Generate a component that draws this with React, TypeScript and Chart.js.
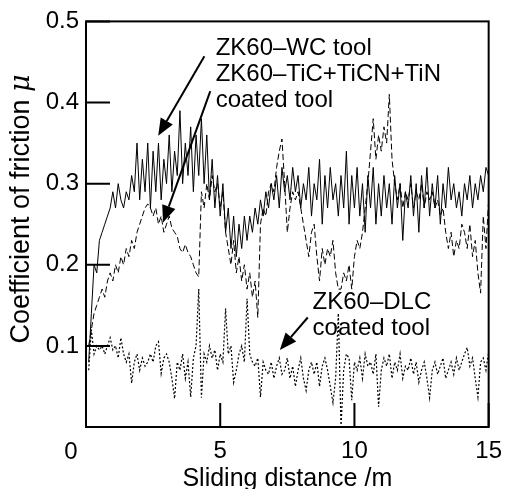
import React, { useEffect, useRef } from "react";
import { Chart, registerables } from "chart.js";

Chart.register(...registerables);

// Sliding distance (m)
const distance = [
  0.1, 0.2, 0.3, 0.4, 0.5, 0.6, 0.7, 0.8, 0.9, 1.0,
  1.1, 1.2, 1.3, 1.4, 1.5, 1.6, 1.7, 1.8, 1.9, 2.0,
  2.1, 2.2, 2.3, 2.4, 2.5, 2.6, 2.7, 2.8, 2.9, 3.0,
  3.1, 3.2, 3.3, 3.4, 3.5, 3.6, 3.7, 3.8, 3.9, 4.0,
  4.1, 4.2, 4.3, 4.4, 4.5, 4.6, 4.7, 4.8, 4.9, 5.0,
  5.1, 5.2, 5.3, 5.4, 5.5, 5.6, 5.7, 5.8, 5.9, 6.0,
  6.1, 6.2, 6.3, 6.4, 6.5, 6.6, 6.7, 6.8, 6.9, 7.0,
  7.1, 7.2, 7.3, 7.4, 7.5, 7.6, 7.7, 7.8, 7.9, 8.0,
  8.1, 8.2, 8.3, 8.4, 8.5, 8.6, 8.7, 8.8, 8.9, 9.0,
  9.1, 9.2, 9.3, 9.4, 9.5, 9.6, 9.7, 9.8, 9.9, 10.0,
  10.1, 10.2, 10.3, 10.4, 10.5, 10.6, 10.7, 10.8, 10.9, 11.0,
  11.1, 11.2, 11.3, 11.4, 11.5, 11.6, 11.7, 11.8, 11.9, 12.0,
  12.1, 12.2, 12.3, 12.4, 12.5, 12.6, 12.7, 12.8, 12.9, 13.0,
  13.1, 13.2, 13.3, 13.4, 13.5, 13.6, 13.7, 13.8, 13.9, 14.0,
  14.1, 14.2, 14.3, 14.4, 14.5, 14.6, 14.7, 14.8, 14.9, 15.0,
];

// ZK60–WC tool (solid)
const wcTool = [
  0.08, 0.14, 0.20, 0.19, 0.23, 0.24, 0.25, 0.26, 0.27, 0.29,
  0.27, 0.30, 0.28, 0.27, 0.29, 0.28, 0.31, 0.29, 0.35, 0.28,
  0.33, 0.29, 0.35, 0.27, 0.34, 0.29, 0.35, 0.28, 0.33, 0.30,
  0.36, 0.29, 0.34, 0.31, 0.39, 0.30, 0.35, 0.31, 0.37, 0.29,
  0.36, 0.31, 0.38, 0.30, 0.36, 0.28, 0.33, 0.27, 0.31, 0.26,
  0.30, 0.24, 0.27, 0.22, 0.26, 0.21, 0.25, 0.22, 0.26, 0.23,
  0.26, 0.24, 0.27, 0.25, 0.28, 0.26, 0.29, 0.27, 0.30, 0.28,
  0.31, 0.27, 0.32, 0.29, 0.31, 0.28, 0.32, 0.29, 0.31, 0.27,
  0.30, 0.28, 0.32, 0.26, 0.30, 0.28, 0.33, 0.25, 0.31, 0.27,
  0.32, 0.28, 0.30, 0.26, 0.31, 0.27, 0.34, 0.25, 0.31, 0.27,
  0.32, 0.26, 0.30, 0.24, 0.31, 0.27, 0.32, 0.25, 0.30, 0.26,
  0.31, 0.27, 0.30, 0.25, 0.31, 0.27, 0.30, 0.23, 0.29, 0.27,
  0.31, 0.26, 0.30, 0.24, 0.31, 0.27, 0.32, 0.26, 0.30, 0.27,
  0.31, 0.25, 0.30, 0.27, 0.32, 0.28, 0.30, 0.27, 0.29, 0.26,
  0.30, 0.28, 0.31, 0.27, 0.30, 0.28, 0.31, 0.29, 0.32, 0.31,
];

// ZK60–TiC+TiCN+TiN coated tool (dashed)
const ticTool = [
  0.10, 0.12, 0.14, 0.15, 0.16, 0.17, 0.16, 0.18, 0.19, 0.18,
  0.20, 0.19, 0.21, 0.20, 0.22, 0.21, 0.23, 0.22, 0.24, 0.25,
  0.26, 0.27, 0.275, 0.27, 0.26, 0.27, 0.25, 0.26, 0.24, 0.25,
  0.26, 0.245, 0.24, 0.235, 0.22, 0.215, 0.225, 0.215, 0.21, 0.20,
  0.19, 0.185, 0.29, 0.27, 0.30, 0.28, 0.31, 0.29, 0.30, 0.27,
  0.29, 0.24, 0.22, 0.20, 0.23, 0.19, 0.21, 0.18, 0.20, 0.17,
  0.19, 0.16, 0.18, 0.135, 0.25, 0.27, 0.26, 0.29, 0.30, 0.29,
  0.32, 0.34, 0.355, 0.30, 0.24, 0.27, 0.29, 0.28, 0.29, 0.27,
  0.25, 0.23, 0.21, 0.24, 0.25, 0.21, 0.18, 0.22, 0.20, 0.22,
  0.21, 0.23, 0.19, 0.17, 0.17, 0.19, 0.18, 0.20, 0.17, 0.21,
  0.23, 0.22, 0.24, 0.27, 0.30, 0.34, 0.38, 0.33, 0.36, 0.34,
  0.37, 0.35, 0.41, 0.33, 0.30, 0.28, 0.30, 0.27, 0.29, 0.28,
  0.30, 0.27, 0.29, 0.28, 0.30, 0.27, 0.29, 0.28, 0.29, 0.27,
  0.28, 0.26, 0.27, 0.24, 0.22, 0.24, 0.21, 0.23, 0.22, 0.25,
  0.24, 0.22, 0.25, 0.21, 0.23, 0.19, 0.165, 0.26, 0.22, 0.28,
];

// ZK60–DLC coated tool (dotted)
const dlcTool = [
  0.07, 0.12, 0.09, 0.10, 0.095, 0.10, 0.09, 0.10, 0.11, 0.095,
  0.10, 0.085, 0.11, 0.09, 0.08, 0.09, 0.054, 0.08, 0.09, 0.07,
  0.085, 0.075, 0.08, 0.09, 0.08, 0.10, 0.105, 0.066, 0.085, 0.09,
  0.08, 0.06, 0.035, 0.08, 0.07, 0.09, 0.06, 0.08, 0.037, 0.085,
  0.10, 0.17, 0.036, 0.09, 0.08, 0.10, 0.085, 0.095, 0.07, 0.09,
  0.08, 0.146, 0.09, 0.10, 0.055, 0.07, 0.09, 0.10, 0.08, 0.158,
  0.09, 0.08, 0.075, 0.085, 0.037, 0.08, 0.07, 0.065, 0.08, 0.06,
  0.075, 0.085, 0.065, 0.07, 0.085, 0.06, 0.075, 0.05, 0.07, 0.085,
  0.06, 0.045, 0.07, 0.08, 0.065, 0.08, 0.05, 0.075, 0.085, 0.07,
  0.05, 0.03, 0.06, 0.14, 0.0, 0.07, 0.09, 0.085, 0.033, 0.08,
  0.07, 0.085, 0.06, 0.09, 0.075, 0.08, 0.065, 0.09, 0.025, 0.07,
  0.085, 0.075, 0.09, 0.06, 0.08, 0.07, 0.09, 0.06, 0.075, 0.07,
  0.085, 0.065, 0.08, 0.055, 0.07, 0.08, 0.06, 0.036, 0.07, 0.08,
  0.065, 0.075, 0.085, 0.06, 0.07, 0.08, 0.065, 0.085, 0.07, 0.08,
  0.09, 0.098, 0.075, 0.085, 0.06, 0.037, 0.08, 0.085, 0.07, 0.092,
];

const xTickValues = [0, 5, 10, 15];
const yTickValues = [0, 0.1, 0.2, 0.3, 0.4, 0.5];

const FONT = "'Liberation Sans', Arial, Helvetica, sans-serif";

const toPoints = (ys: number[]) => ys.map((v, i) => ({ x: distance[i], y: v }));

const annotationPlugin = {
  id: "annotations",
  beforeDraw(chart: any) {
    const { ctx, width, height } = chart;
    ctx.save();
    ctx.fillStyle = "#fff";
    ctx.fillRect(0, 0, width, height);
    ctx.restore();
  },
  afterDraw(chart: any) {
    const { ctx, chartArea } = chart;
    const { left, right, top, bottom } = chartArea;
    const xs = chart.scales.x;
    const ys = chart.scales.y;
    const px = (v: number) => xs.getPixelForValue(v);
    const py = (v: number) => ys.getPixelForValue(v);
    ctx.save();
    ctx.strokeStyle = "#000";
    ctx.fillStyle = "#000";
    ctx.lineWidth = 2;
    ctx.strokeRect(left, top, right - left, bottom - top);
    // inward ticks
    ctx.beginPath();
    for (const v of yTickValues) {
      const y = py(v);
      ctx.moveTo(left, y);
      ctx.lineTo(left + 24, y);
    }
    for (const v of xTickValues) {
      const x = px(v);
      ctx.moveTo(x, bottom);
      ctx.lineTo(x, bottom - 24);
    }
    ctx.stroke();

    // shared origin label
    ctx.font = `24px ${FONT}`;
    ctx.textAlign = "center";
    ctx.textBaseline = "middle";
    ctx.fillText("0", left - 15, bottom + 25);

    // y title
    ctx.save();
    ctx.translate(22, 209);
    ctx.rotate(-Math.PI / 2);
    const main = "Coefficient of friction ";
    ctx.font = `27px ${FONT}`;
    const w1 = ctx.measureText(main).width;
    ctx.font = `italic 27px 'DejaVu Serif', serif`;
    const w2 = ctx.measureText("μ").width;
    const start = -(w1 + w2) / 2;
    ctx.textAlign = "left";
    ctx.font = `27px ${FONT}`;
    ctx.fillText(main, start, 0);
    ctx.font = `italic 27px 'DejaVu Serif', serif`;
    ctx.fillText("μ", start + w1, 0);
    ctx.restore();

    // annotation texts
    ctx.font = `24px ${FONT}`;
    ctx.textAlign = "left";
    ctx.textBaseline = "middle";
    ctx.fillText("ZK60–WC tool", px(4.83), py(0.467));
    ctx.fillText("ZK60–TiC+TiCN+TiN", px(4.83), py(0.435));
    ctx.fillText("coated tool", px(4.83), py(0.403));
    ctx.fillText("ZK60–DLC", px(8.44), py(0.154));
    ctx.fillText("coated tool", px(8.44), py(0.122));

    const arrow = (x1: number, y1: number, x2: number, y2: number) => {
      const ax = px(x1), ay = py(y1), bx = px(x2), by = py(y2);
      const ang = Math.atan2(by - ay, bx - ax);
      const hl = 17, hw = 7;
      const cx = bx - hl * Math.cos(ang), cy = by - hl * Math.sin(ang);
      ctx.lineWidth = 2;
      ctx.beginPath();
      ctx.moveTo(ax, ay);
      ctx.lineTo(cx, cy);
      ctx.stroke();
      ctx.beginPath();
      ctx.moveTo(bx, by);
      ctx.lineTo(cx + hw * Math.sin(ang), cy - hw * Math.cos(ang));
      ctx.lineTo(cx - hw * Math.sin(ang), cy + hw * Math.cos(ang));
      ctx.closePath();
      ctx.fill();
    };
    arrow(4.41, 0.457, 2.69, 0.359);
    arrow(4.63, 0.414, 2.87, 0.252);
    arrow(8.26, 0.135, 7.22, 0.095);
    ctx.restore();
  },
};

export default function App() {
  const ref = useRef<HTMLCanvasElement | null>(null);
  useEffect(() => {
    if (!ref.current) return;
    const chart = new Chart(ref.current, {
      type: "line",
      data: {
        datasets: [
          {
            label: "ZK60–WC tool",
            data: toPoints(wcTool),
            borderColor: "#000",
            borderWidth: 1,
            pointRadius: 0,
            tension: 0,
          },
          {
            label: "ZK60–TiC+TiCN+TiN coated tool",
            data: toPoints(ticTool),
            borderColor: "#000",
            borderWidth: 1,
            borderDash: [6, 3],
            pointRadius: 0,
            tension: 0,
          },
          {
            label: "ZK60–DLC coated tool",
            data: toPoints(dlcTool),
            borderColor: "#000",
            borderWidth: 1.2,
            borderDash: [2, 2],
            pointRadius: 0,
            tension: 0,
          },
        ],
      },
      options: {
        responsive: false,
        animation: false,
        layout: { padding: { top: 20, right: 19, left: 0, bottom: 0 } },
        plugins: { legend: { display: false }, tooltip: { enabled: false } },
        scales: {
          x: {
            type: "linear",
            min: 0,
            max: 15,
            grid: { display: false, drawTicks: false },
            border: { display: false },
            ticks: {
              stepSize: 5,
              padding: 10,
              color: "#000",
              font: { family: FONT, size: 24 },
              maxRotation: 0,
              callback: (v: any) => (v === 0 ? "" : String(v)),
            },
            title: {
              display: true,
              text: "Sliding distance /m",
              color: "#000",
              font: { family: FONT, size: 25, lineHeight: 1 },
              padding: { top: 0, bottom: -3 },
            },
            afterFit: (s: any) => {
              s.height = 62;
            },
          },
          y: {
            min: 0,
            max: 0.5,
            grid: { display: false, drawTicks: false },
            border: { display: false },
            ticks: {
              stepSize: 0.1,
              padding: 7,
              color: "#000",
              font: { family: FONT, size: 24 },
              callback: (v: any) => (Math.abs(v) < 1e-9 ? "" : Number(v).toFixed(1)),
            },
            afterFit: (s: any) => {
              s.width = 86;
            },
          },
        },
      },
      plugins: [annotationPlugin],
    });
    return () => chart.destroy();
  }, []);
  return (
    <div style={{ position: "absolute", left: 0, top: 0, width: 512, height: 489, background: "#fff" }}>
      <canvas ref={ref} width={512} height={489} style={{ display: "block" }} />
    </div>
  );
}
